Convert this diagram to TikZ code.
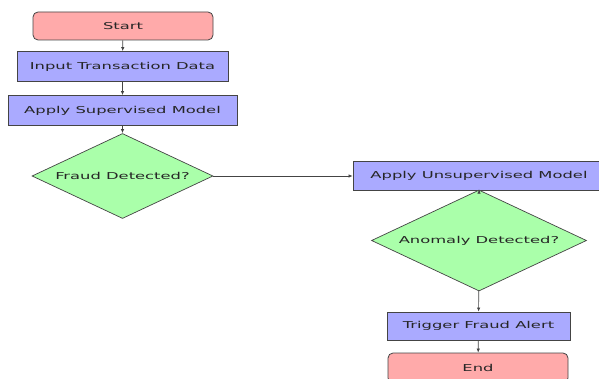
\documentclass[tikz,border=0pt]{standalone}
\usepackage{fontspec}
\usepackage{tikz}
\usetikzlibrary{shapes.geometric, arrows.meta}
\newfontfamily\chartfont[FakeStretch=1.72]{DejaVu Sans}
\definecolor{termpink}{HTML}{FFAAAA}
\definecolor{procblue}{HTML}{AAAAFF}
\definecolor{decgreen}{HTML}{AAFFAA}
\definecolor{edgegray}{HTML}{444444}
\definecolor{textgray}{HTML}{262626}

\begin{document}
\begin{tikzpicture}[x=1pt, y=-1pt,
    font=\chartfont\fontsize{9.5}{11}\selectfont, text=textgray,
    term/.style={draw=edgegray, line width=0.8pt, fill=termpink, rounded corners=5pt, minimum width=180pt, minimum height=28pt},
    proc/.style={draw=edgegray, line width=0.8pt, fill=procblue, minimum height=30pt},
    dec/.style={draw=edgegray, line width=0.7pt, fill=decgreen, shape=diamond, aspect=2.13, inner sep=0pt},
    flow/.style={draw=edgegray, line width=0.7pt, -{Latex[length=4pt, width=3.5pt]}}]
        \path[use as bounding box, clip] (0,0) rectangle (599,379);

        \node[term] (start) at (123,26) {Start};
        \node[proc, minimum width=211pt] (input) at (122.5,66.5) {Input Transaction Data};
        \node[proc, minimum width=229pt] (superv) at (122.5,110.5) {Apply Supervised Model};
        \node[dec, minimum width=181pt, minimum height=85pt] (fraud) at (122.5,176) {Fraud Detected?};
        \node[proc, minimum width=252pt, minimum height=29pt] (unsup) at (479,176) {Apply Unsupervised Model};
        \node[dec, minimum width=215pt, minimum height=101pt] (anomaly) at (479,240.5) {Anomaly Detected?};
        \node[proc, minimum width=183pt, minimum height=28pt] (alert) at (478.5,326) {Trigger Fraud Alert};
        \node[term, minimum height=30pt] (end) at (478,368) {End};

        \draw[flow] (start) -- (input);
        \draw[flow] (input) -- (superv);
        \draw[flow] (superv) -- (fraud);
        \draw[flow] (fraud) -- (unsup);
        \draw[flow] (unsup.south) -- (anomaly.north);
        \draw[flow] (anomaly) -- (alert);
        \draw[flow] (alert) -- (end);
    \end{tikzpicture}
\end{document}
